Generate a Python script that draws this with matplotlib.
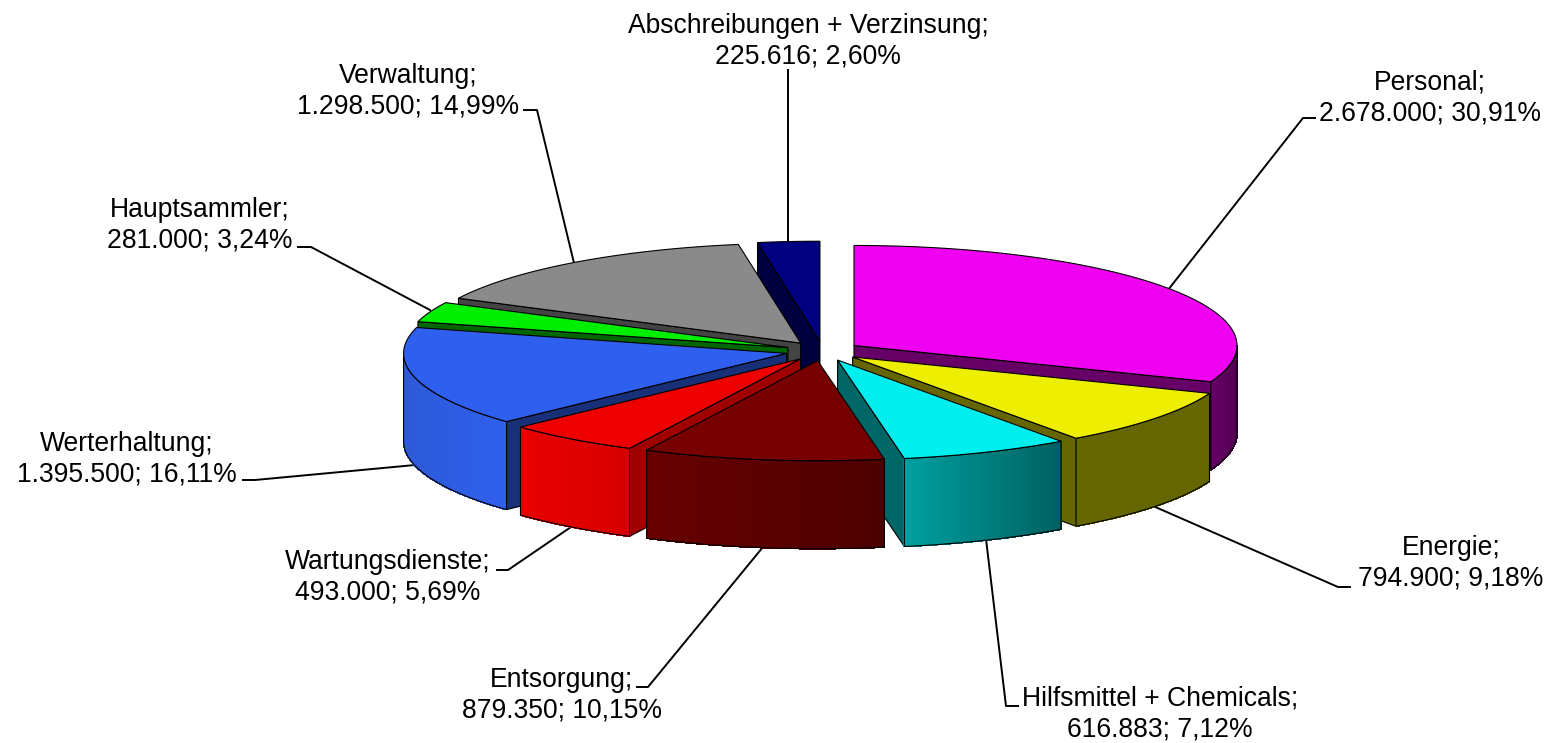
import numpy as np
import matplotlib
matplotlib.use("Agg")
import matplotlib.pyplot as plt

plt.rcParams['font.family'] = ['Liberation Sans', 'DejaVu Sans']

names = ["Personal", "Energie", "Hilfsmittel + Chemicals", "Entsorgung", "Wartungsdienste",
         "Werterhaltung", "Hauptsammler", "Verwaltung", "Abschreibungen + Verzinsung"]
values = [2678000, 794900, 616883, 879350, 493000, 1395500, 281000, 1298500, 225616]
value_labels = ["2.678.000", "794.900", "616.883", "879.350", "493.000",
                "1.395.500", "281.000", "1.298.500", "225.616"]
percent_labels = ["30,91%", "9,18%", "7,12%", "10,15%", "5,69%", "16,11%", "3,24%", "14,99%", "2,60%"]

top_colors = ["#F000F0", "#EEEE00", "#00EEEE", "#770000", "#EE0000", "#2E5FEE", "#00EE00", "#8A8A8A", "#000080"]
cut_colors = ["#660066", "#666600", "#006666", "#990000", "#A00000", "#183078", "#006600", "#444444", "#000040"]
wall_left = ["#660066", "#666600", "#00A0A0", "#680000", "#E80000", "#2E5AD8", "#006600", "#444444", "#000040"]
wall_right = ["#520052", "#666600", "#006060", "#4C0000", "#D80000", "#2F60EE", "#006600", "#444444", "#000040"]

# back to front
draw_order = [8, 7, 0, 6, 5, 1, 4, 2, 3]

# layout, label centre and leader line for each slice
label_pos = [(1430, 98), (1451, 563), (1160, 714), (562, 695), (388, 577), (127, 459), (200, 225), (408, 91), (808, 41)]
leaders = [
    [(1315, 118), (1303, 118), (1168, 290)],
    [(1350, 587), (1338, 587), (1153, 506)],
    [(1018, 706), (1006, 706), (986, 539)],
    [(637, 687), (648, 687), (763, 547)],
    [(497, 570), (508, 570), (571, 527)],
    [(243, 480), (255, 480), (415, 465)],
    [(298, 247), (311, 247), (430, 310)],
    [(524, 110), (537, 110), (574, 263)],
    [(788, 70), (788, 241)],
]

cx, cy = 823, 351
rx, ry = 383, 100
depth = 88
explode = 0.098


def hex_rgb(c):
    return np.array(matplotlib.colors.to_rgb(c))


fig = plt.figure(figsize=(15.51, 7.43), dpi=100)
ax = fig.add_axes([0, 0, 1, 1])
ax.set_xlim(0, 1551)
ax.set_ylim(743, 0)
ax.axis("off")

for pts, (lx, ly), name, v, p in zip(leaders, label_pos, names, value_labels, percent_labels):
    ax.plot([q[0] for q in pts], [q[1] for q in pts], color="black", lw=1.4, zorder=1)
    ax.text(lx, ly, f"{name};\n{v}; {p}", ha="center", va="center", fontsize=19.1, color="black",
            linespacing=1.22, zorder=5)

angles = np.cumsum([0] + values) / sum(values) * 360

for i in draw_order:
    a0, a1 = np.radians(angles[i]), np.radians(angles[i + 1])
    mid = (a0 + a1) / 2
    ax0 = cx + explode * rx * np.sin(mid)
    ay0 = cy - explode * ry * np.cos(mid)

    t = np.linspace(a0, a1, 80)
    ex = ax0 + rx * np.sin(t)
    ey = ay0 - ry * np.cos(t)

    # cut faces
    faces = []
    if np.sin(a0) < 0:
        faces.append(a0)
    if np.sin(a1) > 1e-6:
        faces.append(a1)
    for f in faces:
        fx = ax0 + rx * np.sin(f)
        fy = ay0 - ry * np.cos(f)
        ax.fill([ax0, fx, fx, ax0], [ay0, fy, fy + depth, ay0 + depth],
                facecolor=cut_colors[i], edgecolor="black", lw=0.8, zorder=2)

    # outer wall, only the front half of the ellipse shows
    w0, w1 = max(a0, np.pi / 2), min(a1, 3 * np.pi / 2)
    if w1 > w0:
        tw = np.linspace(w0, w1, 60)
        wx = ax0 + rx * np.sin(tw)
        wy = ay0 - ry * np.cos(tw)
        xmin, xmax = wx.min(), wx.max()
        c0, c1 = hex_rgb(wall_left[i]), hex_rgb(wall_right[i])
        for k in range(len(tw) - 1):
            frac = ((wx[k] + wx[k + 1]) / 2 - xmin) / (xmax - xmin)
            col = c0 + (c1 - c0) * frac
            ax.fill([wx[k], wx[k + 1], wx[k + 1], wx[k]],
                    [wy[k], wy[k + 1], wy[k + 1] + depth, wy[k] + depth],
                    facecolor=col, edgecolor=col, lw=0.6, antialiased=False, zorder=2)
        ax.fill(np.r_[wx, wx[::-1]], np.r_[wy, wy[::-1] + depth],
                facecolor="none", edgecolor="black", lw=0.8, zorder=2)

    # top face
    ax.fill(np.r_[ax0, ex], np.r_[ay0, ey], facecolor=top_colors[i], edgecolor="black", lw=0.8, zorder=2)

fig.savefig("out.png", dpi=100)
